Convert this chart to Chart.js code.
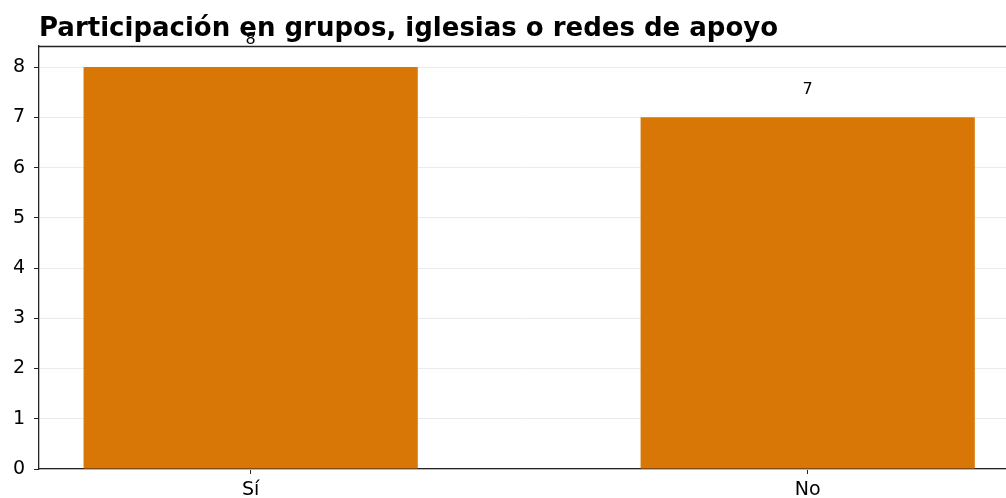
<!DOCTYPE html>
<html>
<head>
<meta charset="utf-8">
<script src="https://cdn.jsdelivr.net/npm/chart.js@4"></script>
<style>
  body { margin: 0; background: #fff; overflow: hidden; }
  canvas { display: block; }
</style>
</head>
<body>
<canvas id="chart" width="1006" height="498"></canvas>
<script>
// --- Data ---
const categories = ["Sí", "No"];
const counts = [8, 7];
const yTicks = [0, 1, 2, 3, 4, 5, 6, 7, 8];
const titleText = "Participación en grupos, iglesias o redes de apoyo";

const FONT = '"DejaVu Sans", sans-serif';
const barColor = "#d97706";
const spineColor = "#222";

Chart.defaults.font.family = FONT;

// --- Title + top spine + value labels ---
const extras = {
  id: "extras",
  afterDatasetsDraw(chart) {
    const ctx = chart.ctx;
    const area = chart.chartArea;
    ctx.save();

    // top spine
    ctx.strokeStyle = spineColor;
    ctx.lineWidth = 1.3;
    ctx.beginPath();
    ctx.moveTo(area.left, area.top + 0.5);
    ctx.lineTo(area.right, area.top + 0.5);
    ctx.stroke();

    // title
    ctx.fillStyle = "#000";
    ctx.font = "bold 26px " + FONT;
    ctx.textAlign = "left";
    ctx.textBaseline = "alphabetic";
    ctx.fillText(titleText, area.left, 36);

    // value labels above bars
    ctx.font = "16px " + FONT;
    ctx.textAlign = "center";
    ctx.textBaseline = "middle";
    chart.getDatasetMeta(0).data.forEach((bar, i) => {
      ctx.fillText(String(counts[i]), bar.x, bar.y - 27);
    });
    ctx.restore();
  }
};

function draw() {
  new Chart(document.getElementById("chart"), {
    type: "bar",
    data: {
      datasets: [{
        data: categories.map((c, i) => ({ x: i, y: counts[i] })),
        backgroundColor: barColor,
        borderWidth: 0,
        categoryPercentage: 1,
        barPercentage: 0.6
      }]
    },
    options: {
      responsive: false,
      animation: false,
      layout: { padding: { top: 46, right: 0, bottom: 0, left: 0 } },
      plugins: {
        legend: { display: false },
        title: { display: false },
        tooltip: { enabled: false }
      },
      scales: {
        x: {
          type: "linear",
          offset: false,
          min: -0.38,
          max: 1.356,
          afterBuildTicks: axis => { axis.ticks = categories.map((c, i) => ({ value: i })); },
          afterFit: axis => { axis.height = 29; },
          ticks: {
            callback: v => categories[v],
            color: "#000",
            font: { family: FONT, size: 19 },
            padding: 5,
            maxRotation: 0
          },
          grid: {
            offset: false,
            drawOnChartArea: false,
            drawTicks: true,
            tickLength: 5,
            tickColor: spineColor
          },
          border: { color: spineColor, width: 1.3 }
        },
        y: {
          min: 0,
          max: 8.42,
          afterBuildTicks: axis => { axis.ticks = yTicks.map(v => ({ value: v })); },
          afterFit: axis => { axis.width = 39; },
          ticks: {
            color: "#000",
            font: { family: FONT, size: 19 },
            padding: 9
          },
          grid: {
            color: "#ebebeb",
            lineWidth: 1,
            drawTicks: true,
            tickLength: 5,
            tickColor: spineColor
          },
          border: { color: spineColor, width: 1.3 }
        }
      }
    },
    plugins: [extras]
  });
}

if (document.fonts && document.fonts.load) {
  Promise.all([
    document.fonts.load('bold 26px "DejaVu Sans"'),
    document.fonts.load('19px "DejaVu Sans"')
  ]).then(draw, draw);
} else {
  draw();
}
</script>
</body>
</html>
